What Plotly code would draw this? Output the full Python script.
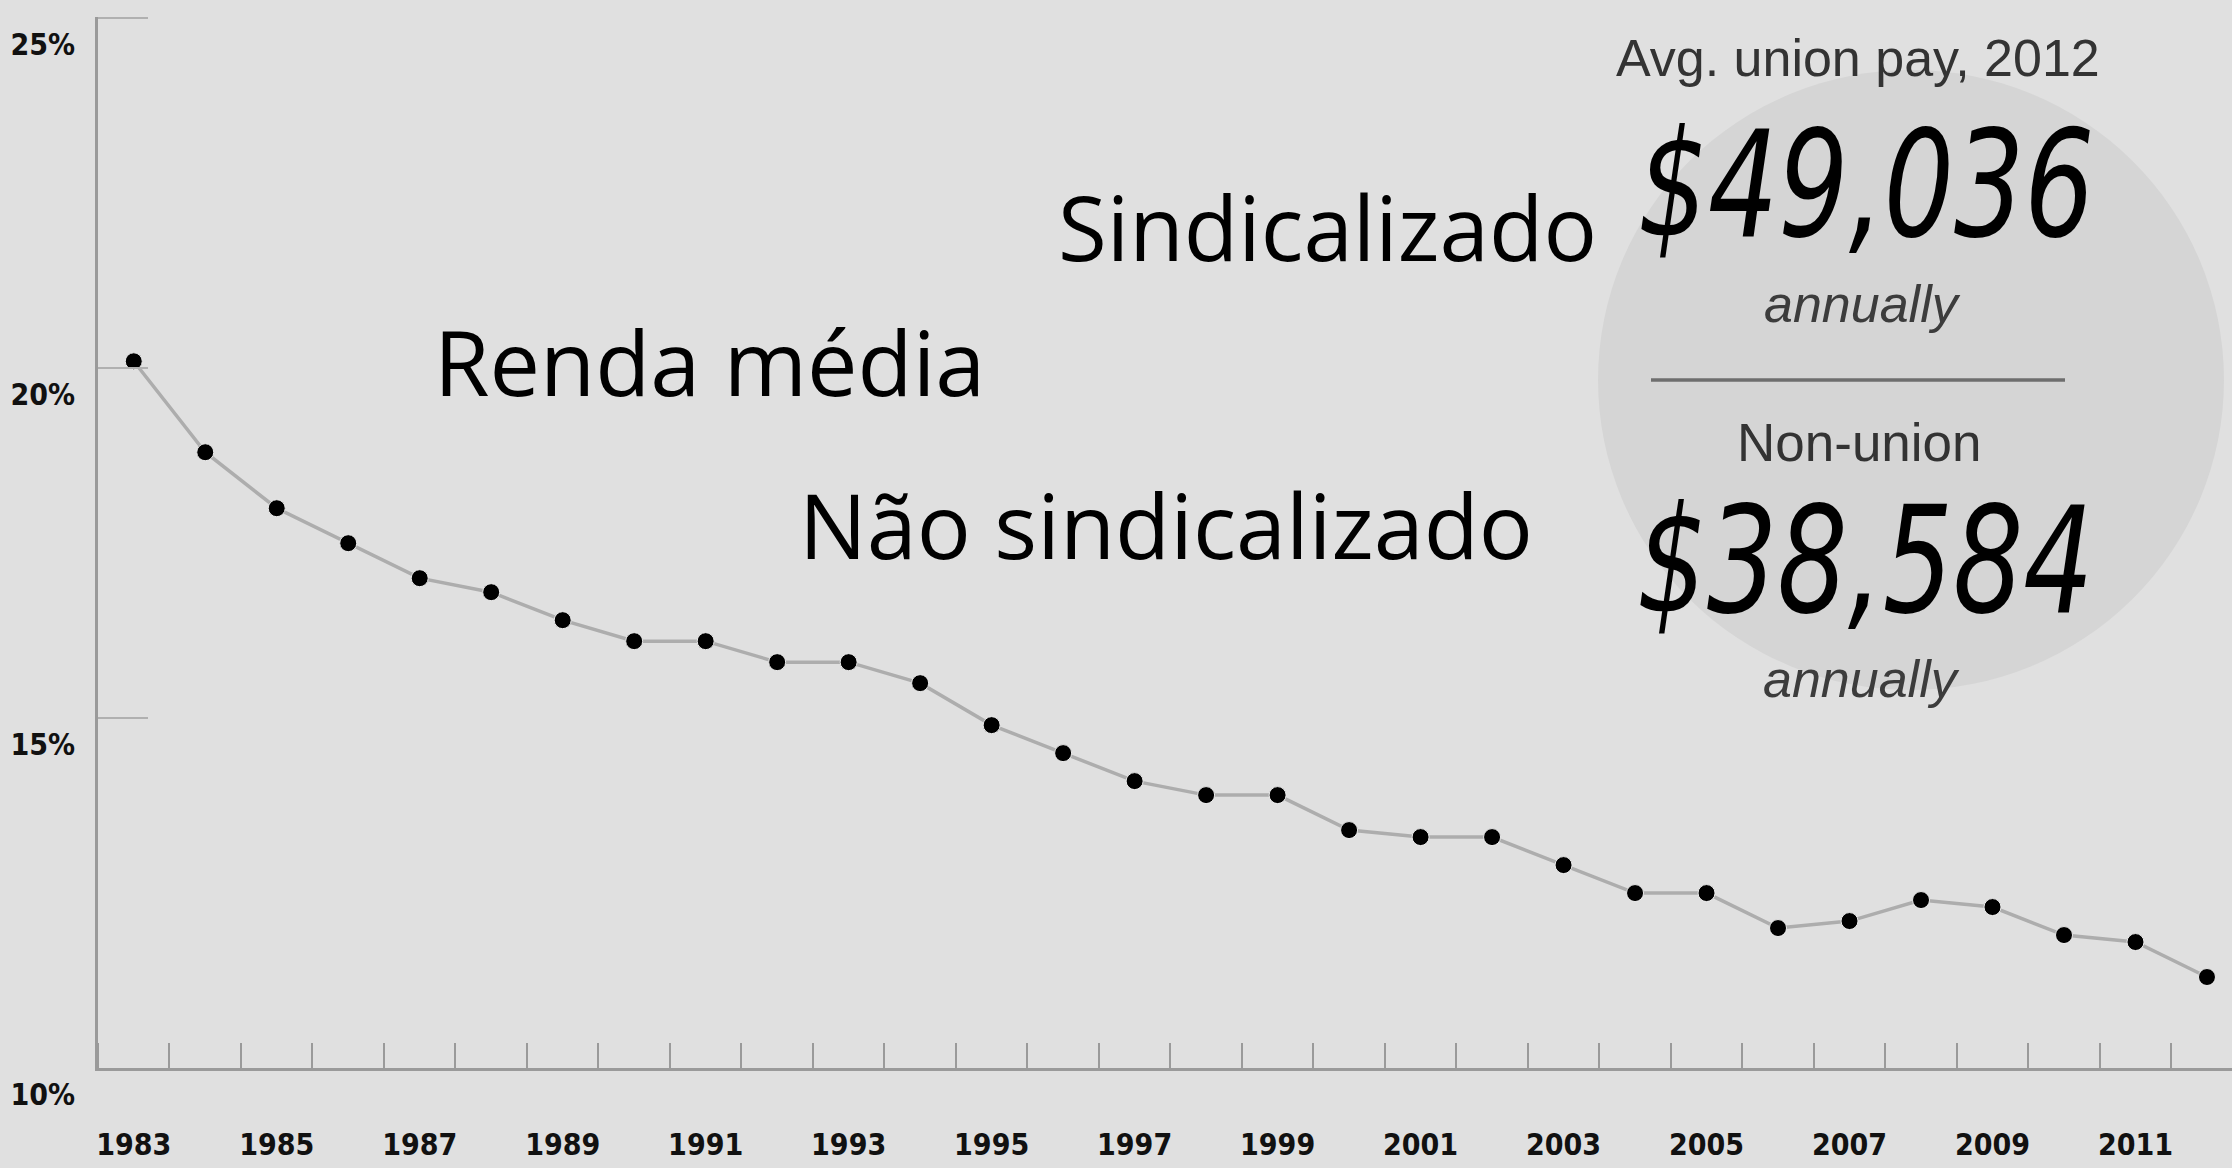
import plotly.graph_objects as go

years = list(range(1983, 2013))
union_rate = [20.1, 18.8, 18.0, 17.5, 17.0, 16.8, 16.4, 16.1, 16.1, 15.8,
              15.8, 15.5, 14.9, 14.5, 14.1, 13.9, 13.9, 13.4, 13.3, 13.3,
              12.9, 12.5, 12.5, 12.0, 12.1, 12.4, 12.3, 11.9, 11.8, 11.3]
x_label_years = list(range(1983, 2012, 2))
x_label_text = [str(y) for y in x_label_years]
y_tick_vals = [10, 15, 20, 25]
y_tick_text = ["10%", "15%", "20%", "25%"]
x_minor_ticks = [y - 0.5 for y in range(1983, 2013)]

W, H = 2232, 1168
L, R, T, B = 98, 0, 17, 100
PW, PH = W - L - R, H - T - B


def px(x):
    return (x - L) / PW


def py(y):
    return (H - B - y) / PH


BG = "#e0e0e0"
AX = "#9a9a9a"
COND = "DejaVu Sans Condensed, Liberation Sans"

fig = go.Figure()
fig.add_trace(go.Scatter(
    x=years, y=union_rate, mode="lines+markers",
    line=dict(color="#adadad", width=3.5),
    marker=dict(color="#000000", size=17, line=dict(color="#ececec", width=1)),
    hoverinfo="x+y", showlegend=False,
))

fig.update_layout(
    width=W, height=H,
    margin=dict(l=L, r=R, t=T, b=B, pad=0),
    paper_bgcolor=BG, plot_bgcolor=BG,
    showlegend=False,
    xaxis=dict(
        range=[1982.5, 2012.35], showgrid=False, zeroline=False, automargin=False,
        showline=True, linecolor=AX, linewidth=3,
        tickmode="array", tickvals=x_label_years, ticktext=x_label_text,
        ticks="", ticklabelstandoff=48,
        tickfont=dict(family=COND, size=30, color="#111111", weight="bold"),
        minor=dict(tickmode="array", tickvals=x_minor_ticks, ticks="inside",
                   ticklen=25, tickwidth=2, tickcolor=AX, showgrid=False),
        fixedrange=True,
    ),
    yaxis=dict(
        range=[10, 25.02], showgrid=False, zeroline=False, automargin=False,
        showline=True, linecolor=AX, linewidth=3,
        tickmode="array", tickvals=y_tick_vals, ticktext=y_tick_text,
        ticks="inside", ticklen=50, tickwidth=2, tickcolor="#b0b0b0",
        ticklabelshift=26, ticklabelstandoff=14,
        tickfont=dict(family=COND, size=30, color="#111111", weight="bold"),
        fixedrange=True,
    ),
)

# background circle
fig.add_shape(type="circle", xref="paper", yref="paper",
              x0=px(1598), x1=px(2224), y0=py(690), y1=py(70),
              fillcolor="#d5d5d5", line=dict(width=0), layer="below")
# divider
fig.add_shape(type="line", xref="paper", yref="paper",
              x0=px(1651), x1=px(2065), y0=py(380), y1=py(380),
              line=dict(color="#6e6e6e", width=3.5))


def ann(text, x, y, size, family, color="#000000", italic=False, xanchor="center"):
    fig.add_annotation(
        text=text, xref="paper", yref="paper", x=px(x), y=py(y),
        xanchor=xanchor, yanchor="middle", showarrow=False,
        font=dict(family=family, size=size, color=color,
                  style="italic" if italic else "normal"),
    )


SANS = "Liberation Sans"
ann("Avg. union pay, 2012", 1858, 58, 52, SANS, "#333333")
ann("$49,036", 1866, 185, 148, COND, "#000000", italic=True)
ann("annually", 1862, 304, 52, SANS, "#3c3c3c", italic=True)
ann("Non-union", 1859, 442, 53, SANS, "#333333")
ann("$38,584", 1865, 561, 148, COND, "#000000", italic=True)
ann("annually", 1861, 679, 52, SANS, "#3c3c3c", italic=True)

MAIN = "Open Sans"
ann("Sindicalizado", 1327, 226, 89, MAIN)
ann("Renda média", 709, 361, 90, MAIN)
ann("Não sindicalizado", 1166, 524, 90, MAIN)

# remove default page margin and condense the two large pay figures horizontally
page_js = """
document.body.style.margin='0';
document.body.style.background='%s';
document.querySelectorAll('text.annotation-text').forEach(function(t){
  if (t.textContent.trim().charAt(0) === '$') {
    t.style.transformBox = 'fill-box';
    t.style.transformOrigin = 'center';
    t.style.transform = 'scaleX(0.83)';
  }
});
""" % BG

fig.write_html("out.html", post_script=page_js,
               config={"displayModeBar": False})
